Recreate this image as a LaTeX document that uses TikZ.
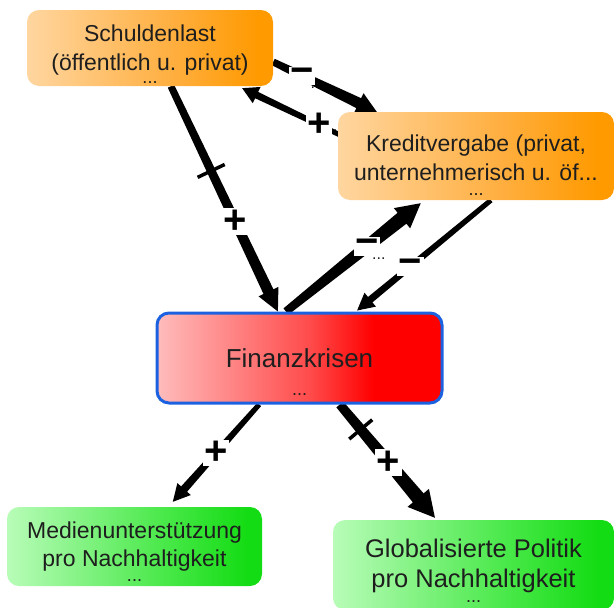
\documentclass[tikz,border=0pt]{standalone}
\usepackage{fontspec}
\setmainfont{Liberation Sans}
\usetikzlibrary{calc}

\definecolor{txtcol}{HTML}{1E1E1E}
\definecolor{arrowcol}{HTML}{000000}
\definecolor{finborder}{HTML}{1C62E0}
\definecolor{orL}{HTML}{FFD6A0}
\definecolor{orM}{HTML}{FFAE3E}
\definecolor{orR}{HTML}{FF9A00}
\definecolor{rdL}{HTML}{FFBCBC}
\definecolor{rdM}{HTML}{FF4A4A}
\definecolor{rdR}{HTML}{FF0000}
\definecolor{grL}{HTML}{B8FCB8}
\definecolor{grM}{HTML}{4CE94C}
\definecolor{grR}{HTML}{14DC14}

\pgfdeclarehorizontalshading{orangeshade}{100bp}{color(0bp)=(orL); color(25bp)=(orL); color(55bp)=(orM); color(72bp)=(orR); color(100bp)=(orR)}
\pgfdeclarehorizontalshading{redshade}{100bp}{color(0bp)=(rdL); color(25bp)=(rdL); color(52bp)=(rdM); color(63bp)=(rdR); color(100bp)=(rdR)}
\pgfdeclarehorizontalshading{greenshade}{100bp}{color(0bp)=(grL); color(25bp)=(grL); color(55bp)=(grM); color(72bp)=(grR); color(100bp)=(grR)}

\pgfdeclarelayer{back}
\pgfsetlayers{back,main}

\newcommand\dotsfont{\fontsize{18}{18}\selectfont}

% tapered arrow: tail, tip, tail half width, shaft half width at head, head half width, head length
\newcommand\taperarrow[6]{%
  \coordinate (hb) at ($(#2)!#6!(#1)$);
  \fill[arrowcol] ($(#1)!#3!90:(#2)$) -- ($(hb)!#4!90:(#2)$) -- ($(hb)!#5!90:(#2)$)
    -- (#2) -- ($(hb)!#5!-90:(#2)$) -- ($(hb)!#4!-90:(#2)$) -- ($(#1)!#3!-90:(#2)$) -- cycle;
}

\tikzset{
  box/.style={rectangle, rounded corners=12pt, align=center, text=txtcol, inner sep=0pt},
  orbox/.style={box, shade, shading=orangeshade, font=\fontsize{23}{29}\selectfont},
  redbox/.style={box, shade, shading=redshade, draw=finborder, line width=3pt, font=\fontsize{26}{28}\selectfont},
  grbox/.style={box, shade, shading=greenshade},
  sign/.style={fill=white, inner sep=1.5pt, text=black, font=\fontsize{40}{40}\selectfont\bfseries},
  linkdots/.style={inner sep=0pt, text=txtcol, font=\fontsize{16}{16}\selectfont},
  tick/.style={draw=arrowcol, line width=3.5pt},
}

\begin{document}
\begin{tikzpicture}[x=1pt, y=-1pt]
\useasboundingbox (0,0) rectangle (614,608);

% boxes
\node[orbox, minimum width=246pt, minimum height=76pt] (sch) at (150,48)
  {\rule{0pt}{28pt}Schuldenlast\\(öffentlich u. privat)\\[-16pt]{\dotsfont ...}};
\node[orbox, minimum width=276pt, minimum height=88pt] (kred) at (476,156)
  {\rule{0pt}{34pt}Kreditvergabe (privat,\\unternehmerisch u. öf...\\[-14pt]{\dotsfont ...}};
\node[redbox, minimum width=285pt, minimum height=90pt] (fin) at (299.5,358)
  {\rule{0pt}{46pt}Finanzkrisen\\[0pt]{\dotsfont ...}};
\node[grbox, font=\fontsize{23}{28}\selectfont, minimum width=255pt, minimum height=79pt] (med) at (134.5,546.5)
  {\rule{0pt}{26pt}Medienunterstützung\\pro Nachhaltigkeit\\[-13pt]{\dotsfont ...}};
\node[grbox, font=\fontsize{25.5}{30}\selectfont, minimum width=281pt, minimum height=90pt] (glob) at (473.5,565)
  {\rule{0pt}{29pt}Globalisierte Politik\\pro Nachhaltigkeit\\[-15pt]{\dotsfont ...}};

% connector end points on the box borders
\coordinate (aS) at ($(sch.east)+(0,14)$);
\coordinate (aE) at ($(kred.north west)!0.141!(kred.north east)$);
\coordinate (bS) at ($(kred.north west)+(4,24)$);
\coordinate (bE) at ($(sch.south east)+(-31,2)$);
\coordinate (cS) at ($(sch.south west)!0.585!(sch.south east)$);
\coordinate (cE) at ($(fin.north west)!0.425!(fin.north east)$);
\coordinate (dS) at ($(fin.north west)!0.453!(fin.north east)$);
\coordinate (dE) at ($(kred.south west)!0.30!(kred.south east)+(0,3)$);
\coordinate (eS) at ($(kred.south west)!0.554!(kred.south east)$);
\coordinate (eE) at ($(fin.north west)!0.70!(fin.north east)+(0,-1)$);
\coordinate (fS) at ($(fin.south west)!0.36!(fin.south east)$);
\coordinate (fE) at ($(med.north west)!0.65!(med.north east)+(0,-5)$);
\coordinate (gS) at ($(fin.south west)!0.64!(fin.south east)$);
\coordinate (gE) at ($(glob.north west)!0.363!(glob.north east)+(0,-2)$);

\begin{pgfonlayer}{back}
  % label remainders partly hidden by arrows and boxes
  \node[linkdots] (adots) at ($(aS)!0.28!(aE)+(15,12)$) {...};
  \node[linkdots] (bdots) at ($(bS)!0.23!(bE)+(21,6)$) {...};
  % arrows
  \taperarrow{aS}{aE}{3.5pt}{5.5pt}{11pt}{20pt}
  \taperarrow{bS}{bE}{2.5pt}{3.5pt}{9pt}{16pt}
  \taperarrow{cS}{cE}{3.5pt}{5.5pt}{11pt}{22pt}
  \taperarrow{dS}{dE}{4pt}{7pt}{13pt}{24pt}
  \taperarrow{eS}{eE}{2.5pt}{3.5pt}{9pt}{17pt}
  \taperarrow{fS}{fE}{2.5pt}{4pt}{9pt}{17pt}
  \taperarrow{gS}{gE}{4.5pt}{7pt}{14pt}{26pt}
  % delay marks
  \coordinate (tc) at ($(cS)!0.376!(cE)$);
  \draw[tick] ($(tc)!15pt!90:(cE)$) -- ($(tc)!15pt!-90:(cE)$);
  \coordinate (tg) at ($(gS)!0.22!(gE)$);
  \draw[tick] ($(tg)!15pt!90:(gE)$) -- ($(tg)!15pt!-90:(gE)$);
\end{pgfonlayer}

% polarity signs
\node[sign] (la) at ($(aS)!0.28!(aE)$) {−};
\node[sign] (lb) at ($(bS)!0.23!(bE)$) {+};
\node[sign] (lc) at ($(cS)!0.60!(cE)$) {+};
\node[sign] (ld) at ($(dS)!0.60!(dE)$) {−};
\node[linkdots] (ddots) at ($(ld)+(12,12)$) {...};
\node[sign] (le) at ($(eS)!0.60!(eE)$) {−};
\node[sign] (lf) at ($(fS)!0.50!(fE)$) {+};
\node[sign] (lg) at ($(gS)!0.51!(gE)$) {+};
\end{tikzpicture}
\end{document}
